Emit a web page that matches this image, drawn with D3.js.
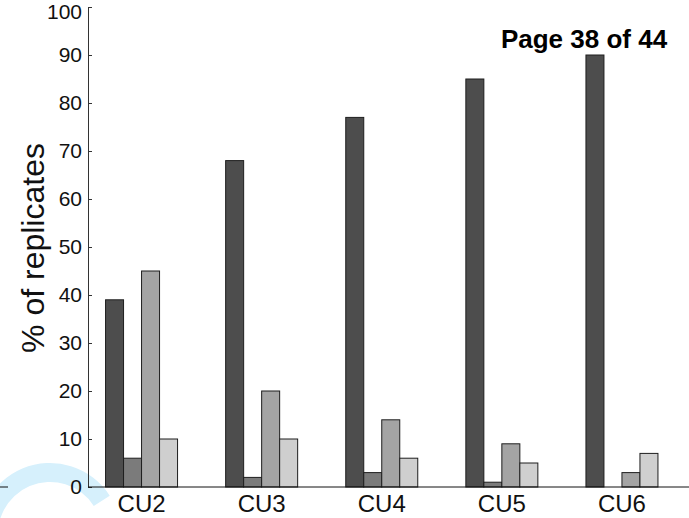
<!DOCTYPE html>
<html>
<head>
<meta charset="utf-8">
<script src="https://cdn.jsdelivr.net/npm/d3@7"></script>
<style>
  body { margin: 0; background: #fff; }
  svg { display: block; font-family: "Liberation Sans", Arial, sans-serif; }
</style>
</head>
<body>
<div id="chart"></div>
<script>
// data
var categories = ["CU2", "CU3", "CU4", "CU5", "CU6"];
var series1 = [39, 68, 77, 85, 90];
var series2 = [6, 2, 3, 1, 0];
var series3 = [45, 20, 14, 9, 3];
var series4 = [10, 10, 6, 5, 7];
var yTicks = [0, 10, 20, 30, 40, 50, 60, 70, 80, 90, 100];
var pageLabel = "Page 38 of 44";

var width = 689,
    height = 518,
    axisX = 88,
    fills = ["#4d4d4d", "#7b7b7b", "#a4a4a4", "#cfcfcf"];

var svg = d3.select("#chart")
    .append("svg")
    .attr("width", width)
    .attr("height", height);

// faint watermark in the lower left corner
var wm = svg.append("g").attr("fill", "#d6f0fc");
wm.append("path")
    .attr("transform", "translate(50,534)")
    .attr("d", d3.arc().innerRadius(52).outerRadius(71).startAngle(-1.8).endAngle(1.0)());
wm.append("path")
    .attr("transform", "translate(40,600)")
    .attr("d", d3.arc().innerRadius(88).outerRadius(102).startAngle(0.75).endAngle(1.2)());

var y = d3.scaleLinear().domain([0, 100]).range([487, 7]);

var x = d3.scaleBand().domain(categories).range([81.5, 682]).padding(0);

var groupW = 72;
var x1 = d3.scaleBand().domain([0, 1, 2, 3]).range([0, groupW]);

var rows = categories.map(function (c, i) {
    return {cat: c, vals: [series1[i], series2[i], series3[i], series4[i]]};
});

var groups = svg.selectAll("g.grp")
    .data(rows)
    .enter()
    .append("g")
    .attr("class", "grp")
    .attr("transform", function (d) {
        return "translate(" + (x(d.cat) + x.bandwidth() / 2 - groupW / 2) + ",0)";
    });

groups.selectAll("rect")
    .data(function (d) {
        return d.vals.map(function (v, k) { return {k: k, v: v}; });
    })
    .enter()
    .append("rect")
    .attr("x", function (d) { return x1(d.k); })
    .attr("y", function (d) { return y(d.v); })
    .attr("width", x1.bandwidth())
    .attr("height", function (d) { return y(0) - y(d.v); })
    .attr("fill", function (d) { return fills[d.k]; })
    .attr("stroke", "#1e1e1e")
    .attr("stroke-width", 1);

// y axis, ticks point inward
var yAxis = svg.append("g")
    .attr("transform", "translate(" + axisX + ",0)")
    .call(d3.axisLeft(y).tickValues(yTicks).tickSizeInner(-4).tickSizeOuter(0).tickPadding(6));
yAxis.select(".domain").attr("stroke", "#333");
yAxis.selectAll(".tick line").attr("stroke", "#333");
yAxis.selectAll(".tick text")
    .attr("font-size", 21)
    .attr("fill", "#111")
    .attr("font-family", null)
    .attr("dy", function (d) { return d === 100 ? "0.55em" : "0.32em"; });

// x baseline runs to the right edge
svg.append("line")
    .attr("x1", axisX).attr("x2", width)
    .attr("y1", y(0)).attr("y2", y(0))
    .attr("stroke", "#111");

// stray line at far left
svg.append("line")
    .attr("x1", 0).attr("x2", 8)
    .attr("y1", y(0)).attr("y2", y(0))
    .attr("stroke", "#111");

var xAxis = svg.append("g")
    .attr("transform", "translate(0," + y(0) + ")")
    .call(d3.axisBottom(x).tickSize(0).tickPadding(8));
xAxis.select(".domain").remove();
xAxis.selectAll(".tick text")
    .attr("font-size", 24)
    .attr("fill", "#111")
    .attr("font-family", null)
    .attr("dy", "0.71em");

svg.append("text")
    .attr("transform", "translate(44,248) rotate(-90)")
    .attr("text-anchor", "middle")
    .attr("font-size", 32)
    .attr("fill", "#111")
    .text("% of replicates");

svg.append("text")
    .attr("x", 584)
    .attr("y", 48)
    .attr("text-anchor", "middle")
    .attr("font-size", 26)
    .attr("font-weight", "bold")
    .attr("fill", "#000")
    .text(pageLabel);
</script>
</body>
</html>
